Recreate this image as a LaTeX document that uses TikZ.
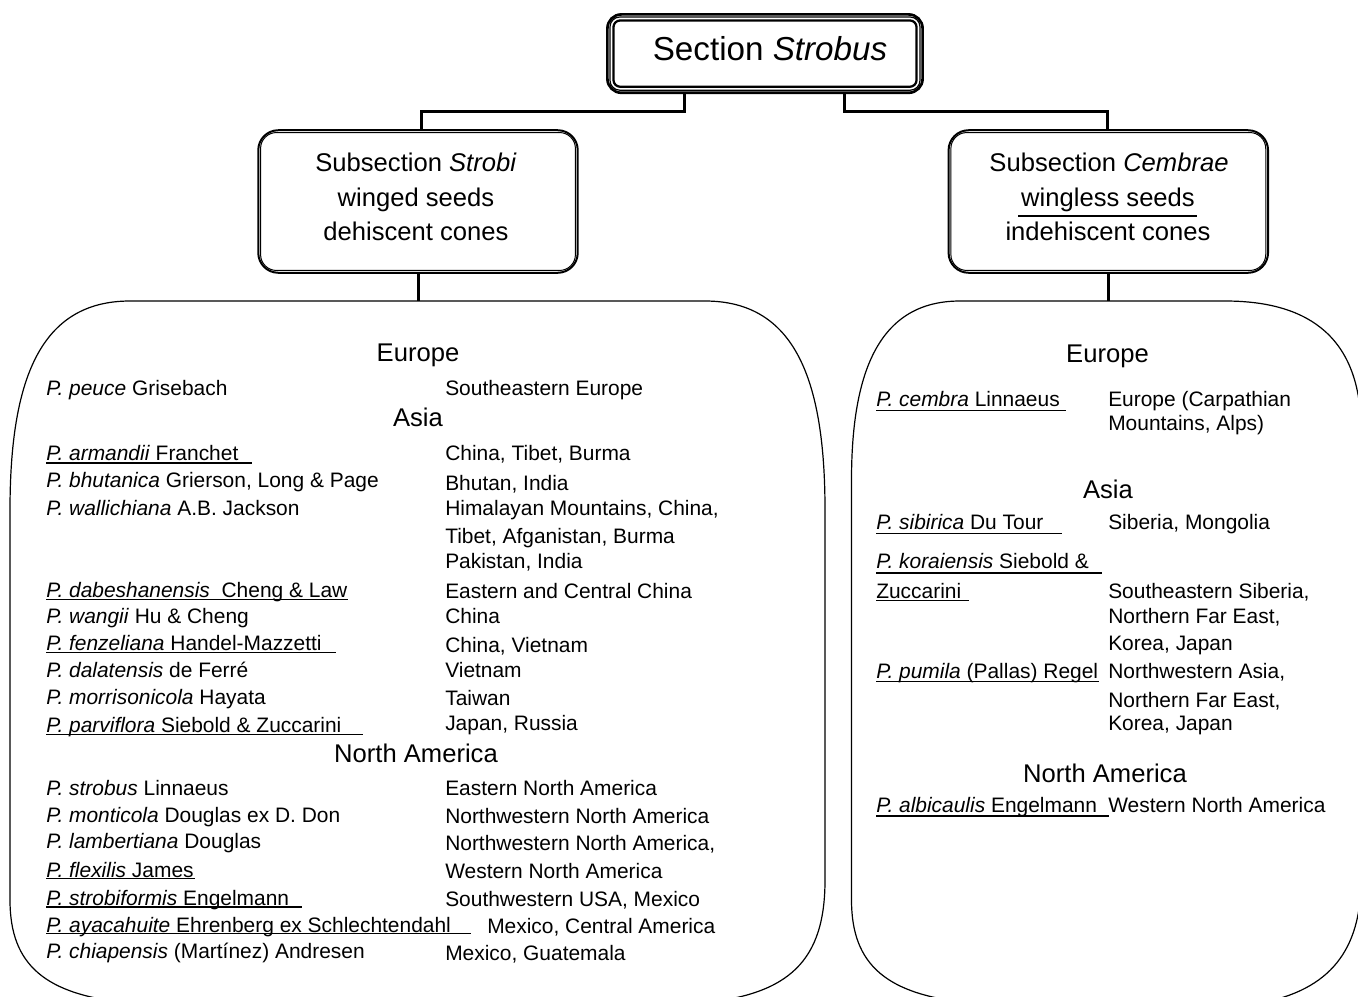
\documentclass[tikz,border=0pt]{standalone}
\usepackage{fontspec}
\setmainfont{Liberation Sans}
\usetikzlibrary{calc}
\begin{document}
\begin{tikzpicture}[x=0.75pt,y=-0.75pt,
  conn/.style={line width=2.5pt},
  bigbox/.style={line width=0.9pt},
  lst/.style={font=\fontsize{15.7pt}{18pt}\selectfont, inner sep=0pt, text height=11.24pt, text depth=0pt, anchor=west},
  hd/.style={font=\fontsize{19.2pt}{22pt}\selectfont, inner sep=0pt, text height=13.75pt, text depth=0pt, anchor=center},
  ul/.style={line width=1pt},
  subbox/.style={draw, line width=1.5pt, rounded corners=15pt, minimum width=239.6pt, minimum height=106.9pt, inner sep=0pt},
]
\useasboundingbox (0,0) rectangle (1358,996);
\clip (0,0) rectangle (1358,996);

% Section box (triple border)
\node[draw, line width=2pt, rounded corners=10.5pt, minimum width=236.4pt, minimum height=58.8pt, inner sep=0pt] (sec) at (765,53.6) {};
\draw[line width=0.9pt, rounded corners=7.5pt] ($(sec.north west)+(3.9,3.9)$) rectangle ($(sec.south east)+(-3.9,-3.9)$);
\draw[line width=1.7pt, rounded corners=5pt] ($(sec.north west)+(7.4,7.4)$) rectangle ($(sec.south east)+(-7.4,-7.4)$);
\node[font=\fontsize{24.9pt}{30pt}\selectfont, inner sep=0pt, text height=17.8pt, text depth=0pt] (secT) at (770,49) {Section \textit{Strobus}};

% Subsection boxes
\node[subbox] (strobi) at (418,201.5) {};
\draw[line width=0.75pt, rounded corners=12pt] ($(strobi.north west)+(3.3,3.3)$) rectangle ($(strobi.south east)+(-3.3,-3.3)$);
\node[hd] (strobiA) at (416,162.5) {Subsection \textit{Strobi}};
\node[hd] (strobiB) at (416,197) {winged seeds};
\node[hd] (strobiC) at (416,231) {dehiscent cones};

\node[subbox] (cembrae) at (1108.3,201.5) {};
\draw[line width=0.75pt, rounded corners=12pt] ($(cembrae.north west)+(3.3,3.3)$) rectangle ($(cembrae.south east)+(-3.3,-3.3)$);
\node[hd] (cembraeA) at (1109,162.5) {Subsection \textit{Cembrae}};
\node[hd] (cembraeB) at (1108,197) {wingless seeds};
\node[hd] (cembraeC) at (1108,231) {indehiscent cones};
\draw[ul] (1018,216) -- (1197,216);

% Connectors
\coordinate (sl) at (684.3,0);
\coordinate (sr) at (844.3,0);
\coordinate (jl) at (421.3,111.3);
\coordinate (jr) at (1107.3,111.3);
\coordinate (lt) at (418.3,301);
\coordinate (rt) at (1108.7,301);
\draw[conn] (sec.south -| sl) |- (jl) -- (jl |- strobi.north);
\draw[conn] (sec.south -| sr) |- (jr) -- (jr |- cembrae.north);
\draw[conn] (strobi.south -| lt) -- (lt);
\draw[conn] (cembrae.south -| rt) -- (rt);

% Big boxes
\draw[bigbox] (10,700) -- (10,510) .. controls (10,380) and (40,301) .. (130,301) -- (705,301) .. controls (795,301) and (825,380) .. (825,510) -- (825,880) .. controls (825,960) and (790,995) .. (700,1003) -- (130,1003) .. controls (45,995) and (10,965) .. (10,900) -- cycle;
\draw[bigbox] (851.5,700) -- (851.5,480) .. controls (851.5,370) and (880,301) .. (960,301) -- (1225,301) .. controls (1300,301) and (1361,330) .. (1361,430) -- (1361,880) .. controls (1361,950) and (1330,990) .. (1260,1003) -- (971.5,1003) .. controls (886.5,995) and (851.5,965) .. (851.5,900) -- cycle;

% Left box contents
\node[hd] (hEuL) at (418,352) {Europe};
\node[lst] (a1) at (46,387.5) {\textit{P. peuce} Grisebach};
\node[lst] (b1) at (445,387.5) {Southeastern Europe};
\node[hd] (hAsL) at (418,417) {Asia};
\node[lst] (a2) at (46,452.5) {\textit{P. armandii} Franchet};
\node[lst] (b2) at (445,452.5) {China, Tibet, Burma};
\node[lst] (a3) at (46,479.5) {\textit{P. bhutanica} Grierson, Long \& Page};
\node[lst] (b3) at (445,482.5) {Bhutan, India};
\node[lst] (a4) at (46,507.5) {\textit{P. wallichiana} A.B. Jackson};
\node[lst] (b4) at (445,507.5) {Himalayan Mountains, China,};
\node[lst] (b4b) at (445,535.5) {Tibet, Afganistan, Burma};
\node[lst] (b4c) at (445,560.5) {Pakistan, India};
\node[lst] (a5) at (46,589.5) {\textit{P. dabeshanensis}~ Cheng \& Law};
\node[lst] (b5) at (445,590.5) {Eastern and Central China};
\node[lst] (a6) at (46,615.5) {\textit{P. wangii} Hu \& Cheng};
\node[lst] (b6) at (445,615.5) {China};
\node[lst] (a7) at (46,642.5) {\textit{P. fenzeliana} Handel-Mazzetti};
\node[lst] (b7) at (445,644.5) {China, Vietnam};
\node[lst] (a8) at (46,669.5) {\textit{P. dalatensis} de Ferré};
\node[lst] (b8) at (445,669.5) {Vietnam};
\node[lst] (a9) at (46,696.5) {\textit{P. morrisonicola} Hayata};
\node[lst] (b9) at (445,697.5) {Taiwan};
\node[lst] (a10) at (46,724.5) {\textit{P. parviflora} Siebold \& Zuccarini};
\node[lst] (b10) at (445,722.5) {Japan, Russia};
\node[hd] (hNaL) at (416,753) {North America};
\node[lst] (a11) at (46,787.5) {\textit{P. strobus} Linnaeus};
\node[lst] (b11) at (445,787.5) {Eastern North America};
\node[lst] (a12) at (46,814.5) {\textit{P. monticola} Douglas ex D. Don};
\node[lst] (b12) at (445,815.5) {Northwestern North America};
\node[lst] (a13) at (46,840.5) {\textit{P. lambertiana} Douglas};
\node[lst] (b13) at (445,842.5) {Northwestern North America,};
\node[lst] (a14) at (46,869.5) {\textit{P. flexilis} James};
\node[lst] (b14) at (445,871) {Western North America};
\node[lst] (a15) at (46,897.5) {\textit{P. strobiformis} Engelmann};
\node[lst] (b15) at (445,899) {Southwestern USA, Mexico};
\node[lst] (a16) at (46,924.5) {\textit{P. ayacahuite} Ehrenberg ex Schlechtendahl};
\node[lst] (b16) at (487,926) {Mexico, Central America};
\node[lst] (a17) at (46,950.5) {\textit{P. chiapensis} (Martínez) Andresen};
\node[lst] (b17) at (445,953) {Mexico, Guatemala};
\draw[ul] (46,463) -- (252,463);
\draw[ul] (46,599.5) -- (348,599.5);
\draw[ul] (46,652.5) -- (336,652.5);
\draw[ul] (46,734.5) -- (363,734.5);
\draw[ul] (46,878.5) -- (195,878.5);
\draw[ul] (46,907) -- (302,907);
\draw[ul] (46,933.5) -- (471,933.5);

% Right box contents
\node[hd] (hEuR) at (1107.5,353) {Europe};
\node[lst] (c1) at (876,399) {\textit{P. cembra} Linnaeus};
\node[lst] (d1) at (1108,399) {Europe (Carpathian};
\node[lst] (d1b) at (1108,422.5) {Mountains, Alps)};
\node[hd] (hAsR) at (1108,489) {Asia};
\node[lst] (c2) at (876,522) {\textit{P. sibirica} Du Tour};
\node[lst] (d2) at (1108,522) {Siberia, Mongolia};
\node[lst] (c3) at (876,560.8) {\textit{P. koraiensis} Siebold \&};
\node[lst] (c3b) at (876,590.5) {Zuccarini};
\node[lst] (d3) at (1108,590.5) {Southeastern Siberia,};
\node[lst] (d3b) at (1108,615.5) {Northern Far East,};
\node[lst] (d3c) at (1108,642.5) {Korea, Japan};
\node[lst] (c4) at (876,670.5) {\textit{P. pumila} (Pallas) Regel};
\node[lst] (d4) at (1108,670.5) {Northwestern Asia,};
\node[lst] (d4b) at (1108,699.5) {Northern Far East,};
\node[lst] (d4c) at (1108,722.5) {Korea, Japan};
\node[hd] (hNaR) at (1105,773.5) {North America};
\node[lst] (c5) at (876,804.5) {\textit{P. albicaulis} Engelmann};
\node[lst] (d5) at (1108,804.5) {Western North America};
\draw[ul] (876,410.5) -- (1066,410.5);
\draw[ul] (876,533.5) -- (1062,533.5);
\draw[ul] (876,573) -- (1102,573);
\draw[ul] (876,600.7) -- (969,600.7);
\draw[ul] (876,681.7) -- (1099,681.7);
\draw[ul] (876,816) -- (1109,816);
\end{tikzpicture}
\end{document}
